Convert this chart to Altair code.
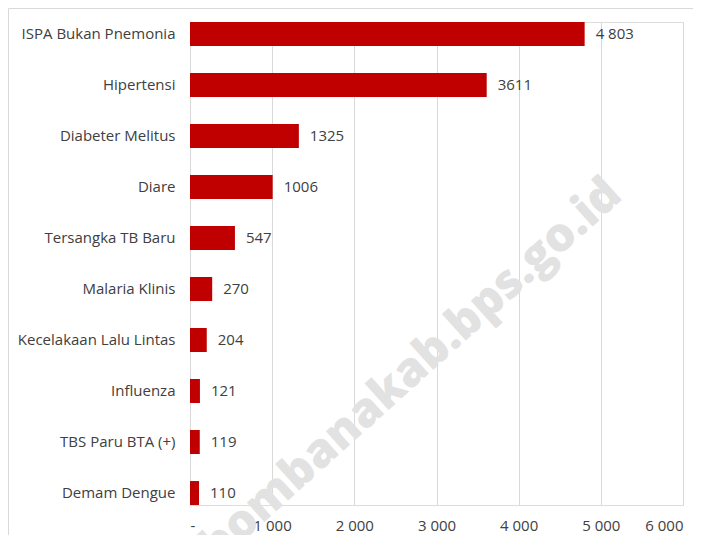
import altair as alt
import pandas as pd

categories = ["ISPA Bukan Pnemonia", "Hipertensi", "Diabeter Melitus", "Diare",
              "Tersangka TB Baru", "Malaria Klinis", "Kecelakaan Lalu Lintas",
              "Influenza", "TBS Paru BTA (+)", "Demam Dengue"]
values = [4803, 3611, 1325, 1006, 547, 270, 204, 121, 119, 110]
value_labels = ["4 803", "3611", "1325", "1006", "547", "270", "204", "121", "119", "110"]
x_ticks = [0, 1000, 2000, 3000, 4000, 5000, 6000]
watermark = "https://bombanakab.bps.go.id"

df = pd.DataFrame({"cat": categories, "val": values, "lab": value_labels})

FONT = "Open Sans"
TXT = "#404040"
FS = 15

x_enc = alt.X("val:Q", scale=alt.Scale(domain=[0, 6000], nice=False),
              axis=alt.Axis(values=x_ticks, title=None, ticks=False, domain=False,
                            grid=True, gridColor="#d9d9d9", gridWidth=1,
                            labelFont=FONT, labelFontSize=FS, labelColor=TXT,
                            labelPadding=13,
                            labelExpr="datum.value == 0 ? '-' : replace(format(datum.value, ','), ',', ' ')"))
y_enc = alt.Y("cat:N", sort=categories,
              scale=alt.Scale(paddingInner=0.53, paddingOuter=0),
              axis=alt.Axis(title=None, ticks=False, domain=False,
                            labelFont=FONT, labelFontSize=FS, labelColor=TXT,
                            labelPadding=15, labelLimit=300))

base = alt.Chart(df)

wm = alt.Chart(pd.DataFrame({"t": [watermark]})).mark_text(
    font=FONT, fontSize=47, fontWeight=800, color="#e2e2e2",
    align="right", baseline="alphabetic", angle=318
).encode(x=alt.value(434), y=alt.value(176), text="t:N")

bars = base.mark_bar(color="#C00000").encode(x=x_enc, y=y_enc)

labels = base.mark_text(align="left", baseline="middle", dx=11,
                        font=FONT, fontSize=FS, color=TXT).encode(
    x="val:Q", y=alt.Y("cat:N", sort=categories), text="lab:N")

border_top = alt.Chart(pd.DataFrame({"a": [0]})).mark_rule(color="#d9d9d9", strokeWidth=1).encode(
    x=alt.value(-181.5), x2=alt.value(520), y=alt.value(-13.5))
border_left = alt.Chart(pd.DataFrame({"a": [0]})).mark_rule(color="#d9d9d9", strokeWidth=1).encode(
    x=alt.value(-181.5), y=alt.value(-13.5), y2=alt.value(520))

chart = alt.layer(wm, bars, labels, border_top, border_left).properties(
    width=493, height=483,
    autosize=alt.AutoSizeParams(type="none"),
    padding={"left": 182, "top": 14, "right": 10, "bottom": 30},
).configure_view(stroke=None).configure(background="white")

chart.save("out.html", embed_options={"renderer": "svg", "actions": False})
